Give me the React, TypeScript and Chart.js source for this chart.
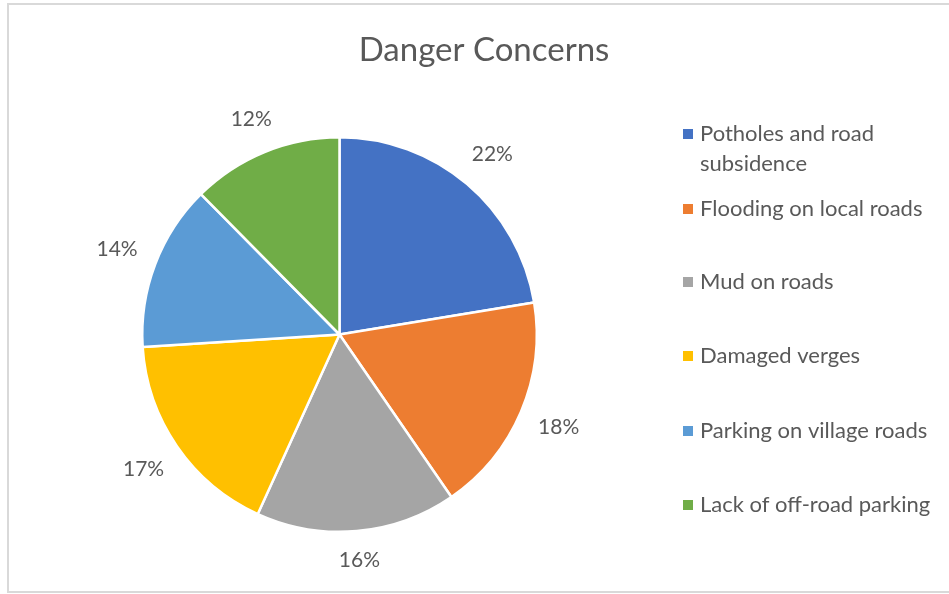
import React, { useEffect, useRef } from "react";
import { Chart, registerables } from "chart.js";

Chart.register(...registerables);

const TITLE = "Danger Concerns";
const CATEGORIES = [
  "Potholes and road subsidence",
  "Flooding on local roads",
  "Mud on roads",
  "Damaged verges",
  "Parking on village roads",
  "Lack of off-road parking",
];
const LEGEND_LINES = [
  ["Potholes and road", "subsidence"],
  ["Flooding on local roads"],
  ["Mud on roads"],
  ["Damaged verges"],
  ["Parking on village roads"],
  ["Lack of off-road parking"],
];
const VALUES = [22.4, 18.0, 16.4, 17.2, 13.6, 12.4];
const COLORS = ["#4472C4", "#ED7D31", "#A5A5A5", "#FFC000", "#5B9BD5", "#70AD47"];

const TEXT_COLOR = "#595959";
const FONT = "Lato, 'Open Sans', sans-serif";

const decorPlugin = {
  id: "decor",
  beforeDraw(chart: any) {
    const ctx = chart.ctx;
    ctx.save();
    ctx.fillStyle = "#ffffff";
    ctx.fillRect(0, 0, chart.width, chart.height);
    ctx.strokeStyle = "#D9D9D9";
    ctx.lineWidth = 2;
    ctx.strokeRect(8, 4, chart.width + 10, chart.height - 6);
    ctx.restore();
  },
  afterDraw(chart: any) {
    const ctx = chart.ctx;
    ctx.save();
    // title
    ctx.fillStyle = TEXT_COLOR;
    ctx.font = `33px ${FONT}`;
    ctx.textAlign = "center";
    ctx.textBaseline = "middle";
    ctx.fillText(TITLE, 484, 50);

    // data labels
    const meta = chart.getDatasetMeta(0);
    const total = VALUES.reduce((a, b) => a + b, 0);
    ctx.font = `21px ${FONT}`;
    meta.data.forEach((arc: any, i: number) => {
      const { x, y, startAngle, endAngle, outerRadius } = arc.getProps(
        ["x", "y", "startAngle", "endAngle", "outerRadius"],
        true
      );
      const mid = (startAngle + endAngle) / 2;
      const text = Math.round((VALUES[i] / total) * 100) + "%";
      const w = ctx.measureText(text).width;
      const h = 20;
      const c = Math.cos(mid);
      const s = Math.sin(mid);
      const d = outerRadius + 18 + Math.abs(c) * (w / 2) + Math.abs(s) * (h / 2);
      ctx.fillText(text, x + c * d, y + s * d);
    });

    // legend
    ctx.font = `22px ${FONT}`;
    ctx.textAlign = "left";
    const itemY = [134, 209, 282, 356, 431, 505];
    LEGEND_LINES.forEach((lines, i) => {
      ctx.fillStyle = COLORS[i];
      ctx.fillRect(683, itemY[i] - 5, 10, 10);
      ctx.fillStyle = TEXT_COLOR;
      lines.forEach((ln, j) => {
        ctx.fillText(ln, 700, itemY[i] + j * 30);
      });
    });
    ctx.restore();
  },
};

export default function App() {
  const ref = useRef<HTMLCanvasElement | null>(null);
  useEffect(() => {
    document.body.style.margin = "0";
    if (!ref.current) return;
    const chart = new Chart(ref.current, {
      type: "pie",
      data: {
        labels: CATEGORIES,
        datasets: [
          {
            data: VALUES,
            backgroundColor: COLORS,
            borderColor: "#ffffff",
            borderWidth: 2.5,
          },
        ],
      },
      options: {
        responsive: false,
        animation: false,
        layout: { padding: { left: 141, right: 411, top: 136, bottom: 61 } },
        plugins: {
          legend: { display: false },
          title: { display: false },
          tooltip: { enabled: false },
        },
      },
      plugins: [decorPlugin],
    });
    return () => chart.destroy();
  }, []);
  return (
    <div style={{ width: 949, height: 594 }}>
      <canvas ref={ref} width={949} height={594} />
    </div>
  );
}
